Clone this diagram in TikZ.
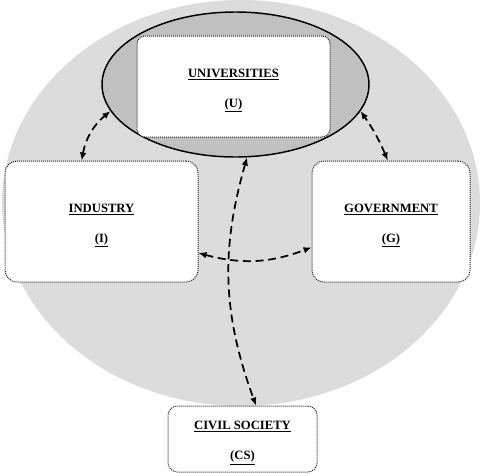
\documentclass[tikz,border=0pt]{standalone}
\usepackage{fontspec}
\setmainfont{Liberation Serif}
\usetikzlibrary{arrows.meta,shapes.geometric}
\definecolor{FieldGray}{HTML}{DCDCDC}
\definecolor{RingGray}{HTML}{C0C0C0}
\definecolor{Dots}{HTML}{202020}

\begin{document}
\begin{tikzpicture}[x=0.75pt,y=-0.75pt,
  actor/.style={rounded corners=9pt,draw=Dots,fill=white,line width=0.75pt,dash pattern=on 0.75pt off 0.75pt,align=center,inner sep=0pt,text height=31pt,text depth=0pt,font=\fontsize{9.5}{22.5}\selectfont\bfseries},
  arrow/.style={{Latex[length=6pt,width=5pt]}-{Latex[length=6pt,width=5pt]},line width=1.3pt,dash pattern=on 6pt off 3.5pt}
]
\useasboundingbox (0,0) rectangle (482,475);
\node[ellipse,fill=FieldGray,minimum width=358.5pt,minimum height=304.5pt,inner sep=0pt] (field) at (241,203) {};
\node[ellipse,draw,fill=RingGray,line width=1.1pt,minimum width=200.25pt,minimum height=108.75pt,inner sep=0pt] (ring) at (235.5,84.5) {};
\node[actor,minimum width=144.75pt,minimum height=75.75pt,rounded corners=6pt] (univ) at (233.5,86.5) {\underline{UNIVERSITIES}\\\underline{(U)}};
\node[actor,minimum width=144.75pt,minimum height=90.75pt] (ind) at (101.5,221.5) {\underline{INDUSTRY}\\\underline{(I)}};
\node[actor,minimum width=118.5pt,minimum height=90.75pt] (gov) at (391,221.5) {\underline{GOVERNMENT}\\\underline{(G)}};
\node[actor,minimum width=111.75pt,minimum height=49.5pt,rounded corners=7pt] (cs) at (242.5,439) {\underline{CIVIL SOCIETY}\\\underline{(CS)}};
\draw[arrow] (ind.108) to[bend left=20] (ring.192);
\draw[arrow] (gov.93) to[bend right=6] (ring.348);
\draw[arrow] (ind.-18) to[bend right=18] (gov.198);
\draw[arrow] (ring.-81) to[bend right=18] (cs.68);
\end{tikzpicture}
\end{document}
